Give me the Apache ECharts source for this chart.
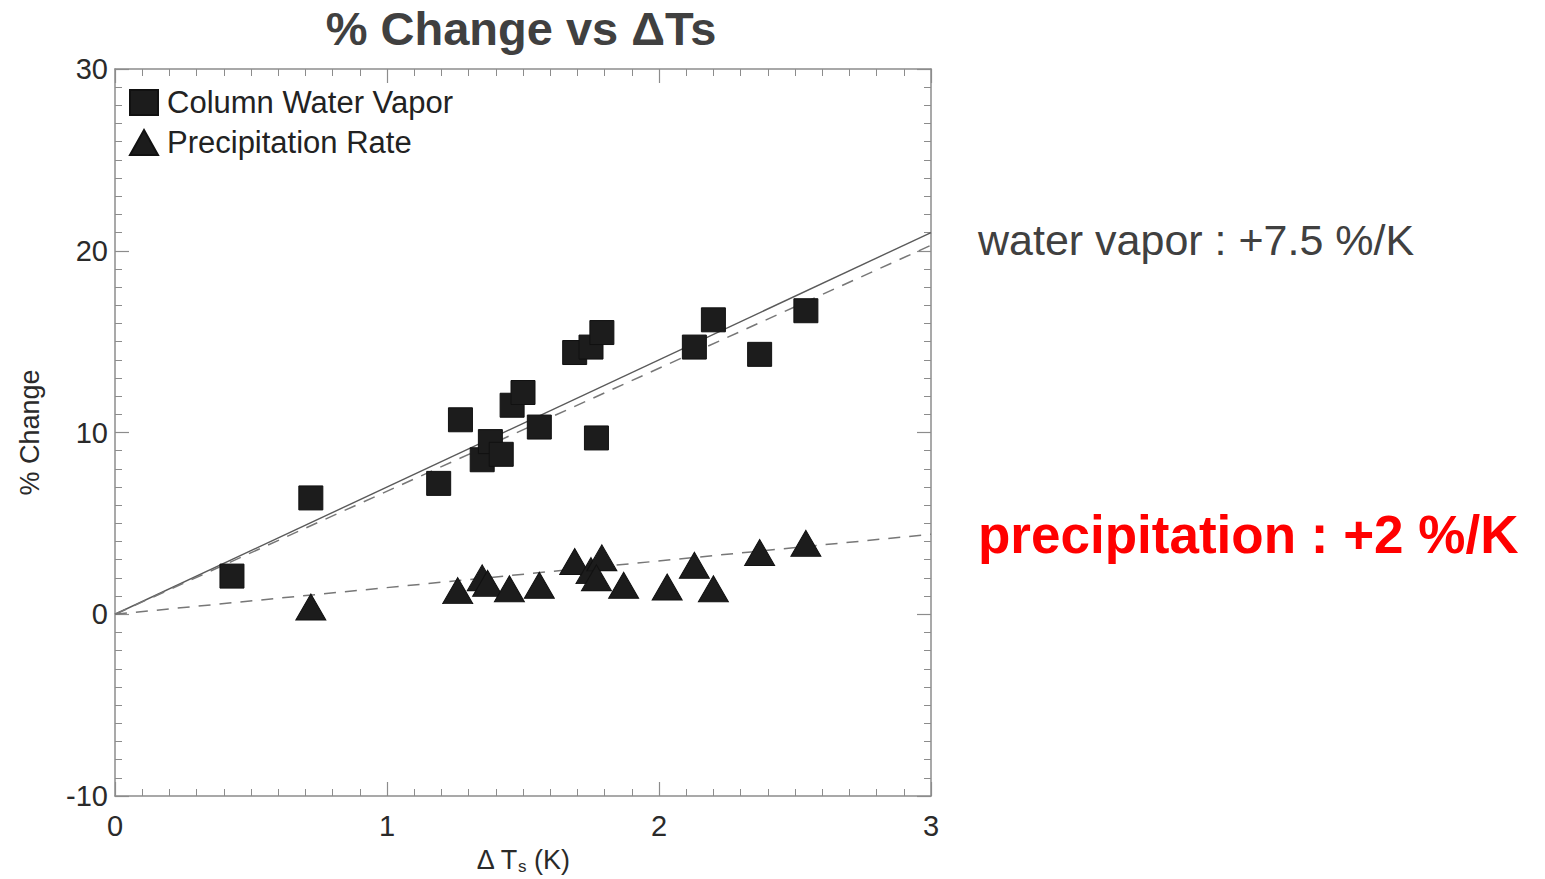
<!DOCTYPE html>
<html>
<head>
<meta charset="utf-8">
<title>% Change vs ΔTs</title>
<script src="https://cdn.jsdelivr.net/npm/echarts@6/dist/echarts.min.js"></script>
<style>
  html, body { margin: 0; padding: 0; background: #fff; }
  #main { width: 1545px; height: 879px; }
</style>
</head>
<body>
<div id="main"></div>
<script>
// column water vapor (squares)
const vaporX = [0.43, 0.72, 1.19, 1.27, 1.35, 1.38, 1.42, 1.46, 1.50, 1.56, 1.69, 1.75, 1.79, 1.77, 2.13, 2.20, 2.37, 2.54];
const vaporY = [2.1, 6.4, 7.2, 10.7, 8.5, 9.5, 8.8, 11.5, 12.2, 10.3, 14.4, 14.7, 15.5, 9.7, 14.7, 16.2, 14.3, 16.7];

// precipitation rate (triangles)
const precipX = [0.72, 1.26, 1.35, 1.37, 1.45, 1.56, 1.69, 1.75, 1.79, 1.77, 1.87, 2.03, 2.13, 2.20, 2.37, 2.54];
const precipY = [0.4, 1.3, 2.0, 1.7, 1.4, 1.6, 2.9, 2.4, 3.1, 2.0, 1.6, 1.5, 2.7, 1.4, 3.4, 3.9];

// fitted lines, end points
const fitX = [0, 3];
const vaporFitSolid = [0, 21.0];
const vaporFitDashed = [0, 20.3];
const precipFitDashed = [0, 4.4];

const xTicks = [0, 1, 2, 3];
const yTicks = [-10, 0, 10, 20, 30];

const pairs = (xs, ys) => xs.map((x, i) => [x, ys[i]]);

const chart = echarts.init(document.getElementById('main'), null, { renderer: 'svg' });

const font = '"Liberation Sans", Arial, sans-serif';
const frame = '#8c8c8c';

function axisCommon(show, margin) {
  return {
    axisLine: { show: true, onZero: false, lineStyle: { color: frame, width: 1.5 } },
    axisTick: { show: true, inside: true, length: 14, lineStyle: { color: frame, width: 1.2 } },
    minorTick: { show: true, splitNumber: 10, length: 7, lineStyle: { color: frame, width: 1 } },
    splitLine: { show: false },
    axisLabel: { show: show, margin: margin, color: '#2a2a2a', fontSize: 29, fontFamily: font }
  };
}

const option = {
  animation: false,
  backgroundColor: '#fff',
  grid: { left: 115, right: 614, top: 69, bottom: 83, outerBoundsMode: 'none' },
  legend: {
    left: 124, top: 82, orient: 'vertical',
    itemWidth: 28, itemHeight: 25, itemGap: 9,
    textStyle: { fontSize: 31, color: '#222', fontFamily: font, padding: [0, 0, 0, 4] },
    data: [
      { name: 'Column Water Vapor', icon: 'rect' },
      { name: 'Precipitation Rate', icon: 'triangle' }
    ]
  },
  xAxis: [
    Object.assign(axisCommon(true, 15), {
      type: 'value', position: 'bottom', min: xTicks[0], max: xTicks[xTicks.length - 1], interval: 1,
      name: '{a|Δ T}{s|s}{a| (K)}', nameLocation: 'middle', nameGap: 48,
      nameTextStyle: {
        rich: {
          a: { fontSize: 27, color: '#2a2a2a', fontFamily: font },
          s: { fontSize: 17, color: '#2a2a2a', fontFamily: font, padding: [14, 0, 0, 0] }
        }
      }
    }),
    Object.assign(axisCommon(false, 8), {
      type: 'value', position: 'top', min: xTicks[0], max: xTicks[xTicks.length - 1], interval: 1
    })
  ],
  yAxis: [
    Object.assign(axisCommon(true, 7), {
      type: 'value', position: 'left', min: yTicks[0], max: yTicks[yTicks.length - 1], interval: 10,
      name: '% Change', nameLocation: 'middle', nameGap: 72, nameRotate: 90,
      nameTextStyle: { fontSize: 27, color: '#2a2a2a', fontFamily: font }
    }),
    Object.assign(axisCommon(false, 8), {
      type: 'value', position: 'right', min: yTicks[0], max: yTicks[yTicks.length - 1], interval: 10
    })
  ],
  graphic: [
    { type: 'text', x: 521, y: 28,
      style: { text: '% Change vs ΔTs', fill: '#404040', font: 'bold 47px ' + font, textAlign: 'center', textVerticalAlign: 'middle' } },
    { type: 'text', x: 978, y: 240,
      style: { text: 'water vapor : +7.5 %/K', fill: '#404040', font: '43px ' + font, textVerticalAlign: 'middle' } },
    { type: 'text', x: 978, y: 534,
      style: { text: 'precipitation : +2 %/K', fill: '#ff0000', font: 'bold 53px ' + font, textVerticalAlign: 'middle' } }
  ],
  series: [
    {
      name: 'vapor fit', type: 'line', data: pairs(fitX, vaporFitSolid), showSymbol: false, silent: true, z: 1,
      lineStyle: { color: '#5a5a5a', width: 1.4 }
    },
    {
      name: 'vapor fit dashed', type: 'line', data: pairs(fitX, vaporFitDashed), showSymbol: false, silent: true, z: 1,
      lineStyle: { color: '#777', width: 1.5, type: [12, 9] }
    },
    {
      name: 'precip fit', type: 'line', data: pairs(fitX, precipFitDashed), showSymbol: false, silent: true, z: 1,
      lineStyle: { color: '#777', width: 1.5, type: [12, 9] }
    },
    {
      name: 'Column Water Vapor', type: 'scatter', data: pairs(vaporX, vaporY), z: 3,
      symbol: 'rect', symbolSize: 24,
      itemStyle: { color: '#1c1c1c', borderColor: '#111', borderWidth: 1, opacity: 1 }
    },
    {
      name: 'Precipitation Rate', type: 'scatter', data: pairs(precipX, precipY), z: 3,
      symbol: 'triangle', symbolSize: [30, 26],
      itemStyle: { color: '#1c1c1c', borderColor: '#111', borderWidth: 1, opacity: 1 }
    }
  ]
};

option.legend.itemStyle = { color: '#1c1c1c' };
chart.setOption(option);
</script>
</body>
</html>
